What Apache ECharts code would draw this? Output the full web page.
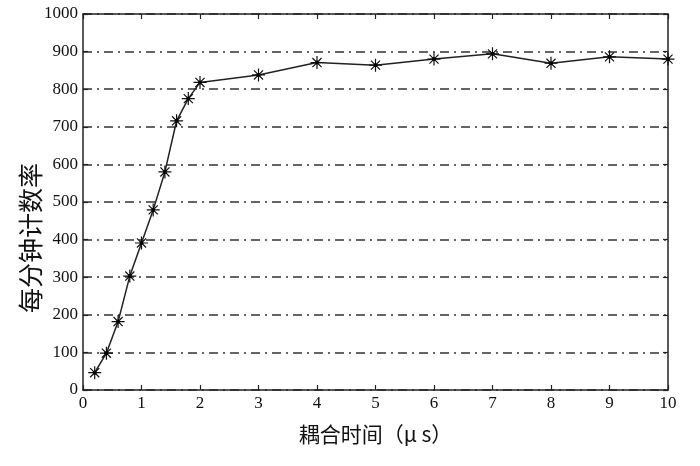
<!DOCTYPE html>
<html><head><meta charset="utf-8">
<script src="https://cdn.jsdelivr.net/npm/echarts@6/dist/echarts.min.js"></script>
<style>html,body{margin:0;padding:0;background:#fff}#c{width:700px;height:466px}</style>
</head><body><div id="c"></div>
<script>
const xValues = [0.2, 0.4, 0.6, 0.8, 1.0, 1.2, 1.4, 1.6, 1.8, 2, 3, 4, 5, 6, 7, 8, 9, 10];
const countRate = [46, 98, 182, 303, 391, 479, 580, 716, 775, 818, 838, 871, 864, 880, 894, 869, 886, 880];
const xTitle = '耦合时间（μ s）';
const yTitle = '每分钟计数率';

const chart = echarts.init(document.getElementById('c'), null, {renderer: 'canvas'});
const serif = '"Liberation Serif","DejaVu Serif",serif';
const cjk = '"Noto Sans CJK SC",sans-serif';
const axisLine = {show: true, onZero: false, lineStyle: {color: '#222', width: 1.5}};
const tick = {show: true, inside: true, length: 5, lineStyle: {color: '#222', width: 1.2}};
const star = 'path://M0,-6L0,6M-6,0L6,0M-4.2,-4.2L4.2,4.2M-4.2,4.2L4.2,-4.2';

chart.setOption({
  animation: false,
  backgroundColor: '#fff',
  grid: {left: 83, right: 32, top: 14, bottom: 76},
  graphic: [{
    type: 'text', x: 30, y: 238, rotation: Math.PI / 2,
    style: {text: yTitle, fill: '#111', font: '25px "Noto Sans CJK SC", sans-serif', align: 'center', verticalAlign: 'middle'}
  }],
  xAxis: [{
    type: 'value', min: 0, max: 10, interval: 1, position: 'bottom',
    axisLine, axisTick: tick,
    axisLabel: {color: '#111', fontFamily: serif, fontSize: 17, margin: 5},
    splitLine: {show: false},
    name: xTitle, nameLocation: 'middle', nameGap: 34,
    nameTextStyle: {color: '#111', fontFamily: cjk, fontSize: 21}
  }, {
    type: 'value', min: 0, max: 10, interval: 1, position: 'top',
    axisLine, axisTick: tick, axisLabel: {show: false}, splitLine: {show: false}
  }],
  yAxis: [{
    type: 'value', min: 0, max: 1000, interval: 100, position: 'left',
    axisLine, axisTick: tick,
    axisLabel: {color: '#111', fontFamily: serif, fontSize: 17, margin: 5, formatter: v => String(v)},
    splitLine: {show: true, lineStyle: {color: '#333', width: 1.5, type: [9, 5, 2, 5]}}
  }, {
    type: 'value', min: 0, max: 1000, interval: 100, position: 'right',
    axisLine, axisTick: tick, axisLabel: {show: false}, splitLine: {show: false}
  }],
  series: [{
    type: 'line',
    data: xValues.map((x, i) => [x, countRate[i]]),
    symbol: star, symbolSize: 13,
    itemStyle: {color: '#111', borderColor: '#111', borderWidth: 1.2},
    lineStyle: {color: '#222', width: 1.5},
    z: 5
  }, {
    type: 'scatter',
    data: xValues.map((x, i) => [x, countRate[i]]),
    symbol: 'circle', symbolSize: 4,
    itemStyle: {color: '#000'}, z: 6, silent: true
  }]
});
</script></body></html>
